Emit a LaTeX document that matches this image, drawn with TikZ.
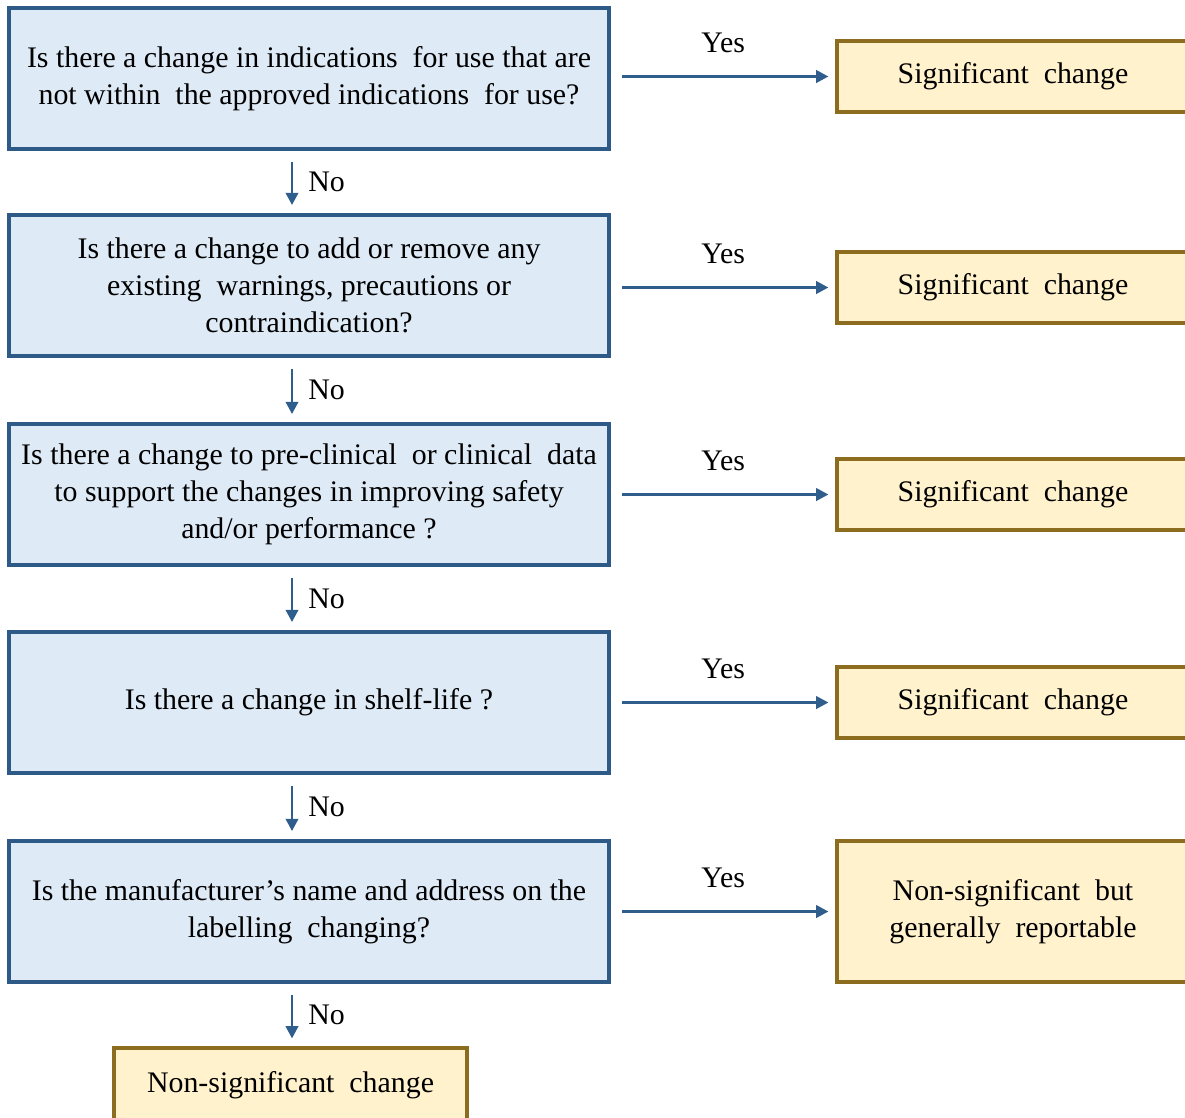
\documentclass[tikz,border=0pt]{standalone}
\usepackage{fontspec}
\setmainfont{Liberation Serif}
\usetikzlibrary{arrows.meta}
\definecolor{qfill}{HTML}{DEEAF6}
\definecolor{qdraw}{HTML}{2E5A87}
\definecolor{rfill}{HTML}{FFF2CC}
\definecolor{rdraw}{HTML}{8C6D1F}
\definecolor{arrcol}{HTML}{2F5D8C}
\tikzset{
  qbox/.style={draw=qdraw, fill=qfill, line width=2.2pt, minimum width=12cm, minimum height=2.82cm, align=center, inner sep=0pt, font=\fontsize{17}{21}\selectfont},
  rbox/.style={draw=rdraw, fill=rfill, line width=1.8pt, minimum width=7.04cm, minimum height=1.42cm, align=center, inner sep=0pt, font=\fontsize{17}{21}\selectfont},
  arr/.style={draw=arrcol, line width=1.6pt, -{Triangle[length=7pt,width=7pt]}},
  lab/.style={font=\fontsize{17}{21}\selectfont, inner sep=0pt}
}
\begin{document}
\begin{tikzpicture}[x=0.02cm,y=-0.02cm]
\useasboundingbox (0,0) rectangle (1185,1117);
\node[qbox] (q1) at (309,78.5) {Is there a change in indications\ \ for use that are\\not within\ \ the approved indications\ \ for use?};
\node[qbox] (q2) at (309,285.5) {Is there a change to add or remove any\\existing\ \ warnings, precautions or\\contraindication?};
\node[qbox] (q3) at (309,494.5) {Is there a change to pre-clinical\ \ or clinical\ \ data\\to support the changes in improving safety\\and/or performance ?};
\node[qbox] (q4) at (309,702.5) {Is there a change in shelf-life ?};
\node[qbox] (q5) at (309,911.5) {Is the manufacturer’s name and address on the\\labelling\ \ changing?};
\node[rbox] (s1) at (1013,76.5) {Significant\ \ change};
\node[rbox] (s2) at (1013,287.5) {Significant\ \ change};
\node[rbox] (s3) at (1013,494.5) {Significant\ \ change};
\node[rbox] (s4) at (1013,702.5) {Significant\ \ change};
\node[rbox, minimum height=2.82cm] (s5) at (1013,911.5) {Non-significant\ \ but\\generally\ \ reportable};
\node[rbox, minimum width=7.06cm, minimum height=1.48cm] (ns) at (290.5,1085) {Non-significant\ \ change};
\foreach \a/\b in {q1/s1,q2/s2,q3/s3,q4/s4,q5/s5}{
  \draw[arr, shorten <=0.22cm, shorten >=0.14cm] (\a.east |- \b.west) -- (\b.west)
    node[lab, midway, above=0.45cm] {Yes};
}
\foreach \a/\b in {q1/q2,q2/q3,q3/q4,q4/q5,q5/ns}{
  \draw[arr, shorten <=0.22cm, shorten >=0.16cm] ([xshift=-0.34cm]\a.south) -- ([xshift=-0.34cm]\a.south |- \b.north)
    node[lab, midway, right=0.3cm] {No};
}
\end{tikzpicture}
\end{document}
